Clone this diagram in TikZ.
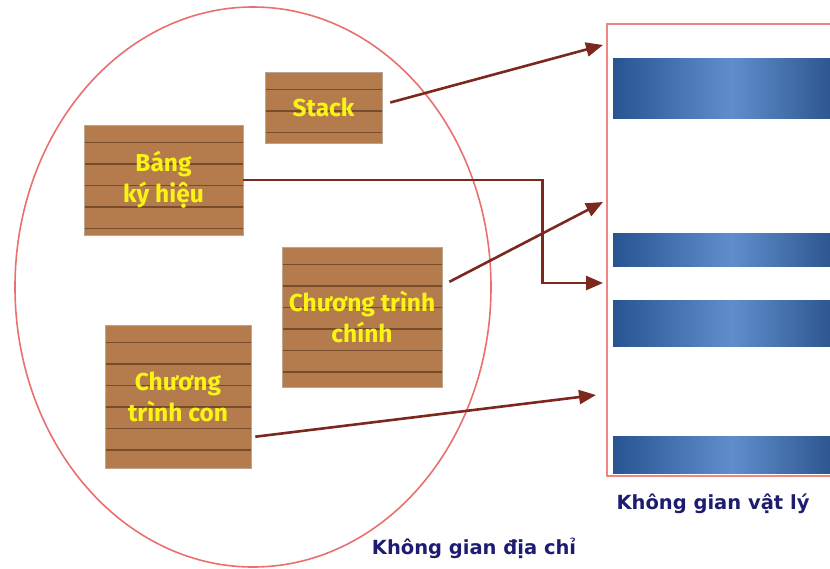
\documentclass[tikz,border=0pt]{standalone}
\usepackage{fontspec}
\setmainfont{DejaVu Sans}
\newfontfamily\gofont{Fira Sans}
\usetikzlibrary{arrows.meta,calc}
\definecolor{NauGo}{RGB}{180,124,76}
\definecolor{VanGo}{RGB}{118,76,42}
\definecolor{VangChu}{RGB}{250,244,20}
\definecolor{DoMuiTen}{RGB}{125,40,30}
\definecolor{HongVien}{RGB}{234,112,112}
\definecolor{XanhDam}{RGB}{40,84,145}
\definecolor{XanhNhat}{RGB}{96,142,205}
\definecolor{XanhChu}{RGB}{30,28,112}

\tikzset{
  go/.style={fill=NauGo, draw=VanGo!50, line width=0.6pt, text=VangChu, align=center,
    inner sep=0pt, font=\gofont\bfseries\fontsize{24.5}{31}\selectfont,
    path picture={\foreach \k in {1,...,8}
      \draw[VanGo, line width=1.3pt]
        ([yshift={-\k*21.5pt+4pt}]path picture bounding box.north west) --
        ([yshift={-\k*21.5pt+4pt}]path picture bounding box.north east);}},
  muiten/.style={->, DoMuiTen, line width=2.6pt},
  thanh/.style={left color=XanhDam, right color=XanhDam!90!black, middle color=XanhNhat},
  nhan/.style={text=XanhChu, font=\bfseries\fontsize{19.5}{23}\selectfont}
}

\begin{document}
\begin{tikzpicture}[x=1pt,y=-1pt,>={Triangle[length=17pt,width=14pt]}]
  \useasboundingbox (0,0) rectangle (830,568);
  \clip (0,0) rectangle (830,568);

  % khong gian dia chi
  \draw[HongVien, line width=1.6pt] (253,287) ellipse [x radius=238pt, y radius=280pt];
  \node[go, minimum width=117pt, minimum height=71pt] (stack) at (323.5,107.5) {Stack};
  \node[go, minimum width=159pt, minimum height=110pt] (bang) at (163.5,180) {Báng\\ký hiệu};
  \node[go, minimum width=160pt, minimum height=140pt] (chinh) at (362,317) {Chương trình\\chính};
  \node[go, minimum width=146pt, minimum height=143pt] (con) at (178,396.5) {Chương\\trình con};
  \node[nhan] (diachi) at (474,548) {Không gian địa chỉ};

  % khong gian vat ly
  \foreach \ytop/\ybot in {58/118,233/266,300/346,436/473}
    \shade[thanh] (613,\ytop) rectangle (850,\ybot);
  \draw[HongVien!85, line width=1.6pt] (607,24) rectangle (850,476);
  \node[nhan] (vatly) at (713,504) {Không gian vật lý};

  \coordinate (dStack) at (603,45);
  \coordinate (dBang) at (603,283);
  \coordinate (dChinh) at (603,202);
  \coordinate (dCon) at (596,395);
  \draw[muiten] ([xshift=8pt,yshift=5pt]stack.east) -- (dStack);
  \draw[muiten] (bang.east) -- ++(299,0) |- (dBang);
  \draw[muiten] ($(chinh.north east)!0.25!(chinh.south east)+(7,0)$) -- (dChinh);
  \draw[muiten] ($(con.north east)!0.78!(con.south east)+(4,0)$) -- (dCon);
\end{tikzpicture}
\end{document}
